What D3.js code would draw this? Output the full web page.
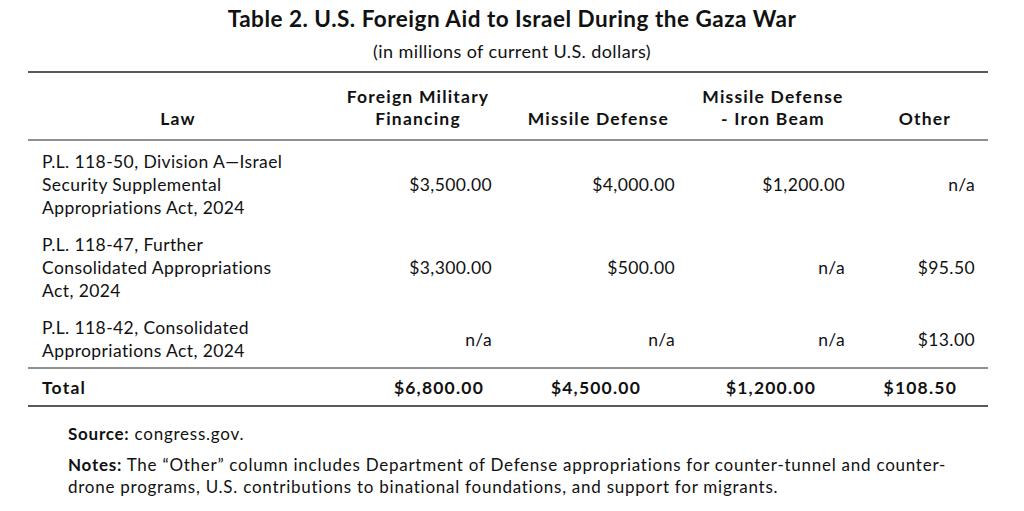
<!DOCTYPE html>
<html><head><meta charset="utf-8">
<script src="https://cdn.jsdelivr.net/npm/d3@7"></script>
<style>body{margin:0;background:#fff}text{font-family:Lato,"Open Sans",sans-serif;fill:#111}
.b{font-size:17.5px;letter-spacing:0.4px}.h{font-size:17.5px;font-weight:bold;letter-spacing:1.2px}
.f{font-size:17px;letter-spacing:0.75px}</style>
</head><body><svg id="c" width="1024" height="511"></svg>
<script>
// table contents
const columns = ['Foreign Military Financing', 'Missile Defense', 'Missile Defense - Iron Beam', 'Other'];
const headerLines = [['Foreign Military', 'Financing'], ['Missile Defense'], ['Missile Defense', '- Iron Beam'], ['Other']];
const laws = [
  ['P.L. 118-50, Division A—Israel', 'Security Supplemental', 'Appropriations Act, 2024'],
  ['P.L. 118-47, Further', 'Consolidated Appropriations', 'Act, 2024'],
  ['P.L. 118-42, Consolidated', 'Appropriations Act, 2024']
];
const values = [
  [3500, 4000, 1200, null],
  [3300, 500, null, 95.5],
  [null, null, null, 13]
];
const totals = [6800, 4500, 1200, 108.5];

const svg = d3.select('#c');
const fmt = v => v == null ? 'n/a' : '$' + d3.format(',.2f')(v);
const colRight = d3.scaleOrdinal().domain(columns).range([492, 675, 845, 975]);
const totRight = d3.scaleOrdinal().domain(columns).range([484, 641, 816, 957]);
const rowTop = d3.scaleOrdinal().domain([0, 1, 2]).range([162, 245, 328]);
const lineH = 23;

svg.append('text').attr('x', 512).attr('y', 27).attr('text-anchor', 'middle')
  .style('font-size', '22.5px').style('font-weight', 'bold').style('letter-spacing', '0.5px')
  .text('Table 2. U.S. Foreign Aid to Israel During the Gaza War');
svg.append('text').attr('x', 512).attr('y', 58).attr('text-anchor', 'middle')
  .style('font-size', '18px').style('letter-spacing', '0.4px').text('(in millions of current U.S. dollars)');

[[72, 1.3], [140, 1], [368, 1], [406, 1.3]].forEach(([y, w]) =>
  svg.append('line').attr('x1', 28).attr('x2', 988).attr('y1', y).attr('y2', y)
    .attr('stroke', '#222').attr('stroke-width', w));

// header
svg.append('text').attr('class', 'h').attr('x', 178).attr('y', 125).attr('text-anchor', 'middle').text('Law');
const hdr = [[418, 'middle'], [669, 'end'], [773, 'middle'], [951, 'end']];
headerLines.forEach((ls, i) => {
  const t = svg.append('text').attr('class', 'h').attr('text-anchor', hdr[i][1]);
  ls.forEach((l, j) => t.append('tspan').attr('x', hdr[i][0])
    .attr('y', 125 - (ls.length - 1 - j) * 22).text(l));
});

// rows
laws.forEach((ls, r) => {
  const top = rowTop(r);
  ls.forEach((l, j) => svg.append('text').attr('class', 'b').attr('x', 42).attr('y', top + 6 + j * lineH).text(l));
  const mid = top + 6 + (ls.length - 1) * lineH / 2;
  columns.forEach((c, i) => svg.append('text').attr('class', 'b').attr('x', colRight(c)).attr('y', mid)
    .attr('text-anchor', 'end').text(fmt(values[r][i])));
});

// totals
svg.append('text').attr('class', 'h').attr('x', 42).attr('y', 394).text('Total');
columns.forEach((c, i) => svg.append('text').attr('class', 'h').attr('x', totRight(c)).attr('y', 394)
  .attr('text-anchor', 'end').text(fmt(totals[i])));

// footnotes
const s = svg.append('text').attr('class', 'f').attr('x', 68).attr('y', 440);
s.append('tspan').style('font-weight', 'bold').text('Source:');
s.append('tspan').text(' congress.gov.');
const n = svg.append('text').attr('class', 'f').attr('x', 68).attr('y', 471);
n.append('tspan').style('font-weight', 'bold').text('Notes:');
n.append('tspan').text(' The “Other” column includes Department of Defense appropriations for counter-tunnel and counter-');
svg.append('text').attr('class', 'f').attr('x', 68).attr('y', 493)
  .text('drone programs, U.S. contributions to binational foundations, and support for migrants.');
</script></body></html>
